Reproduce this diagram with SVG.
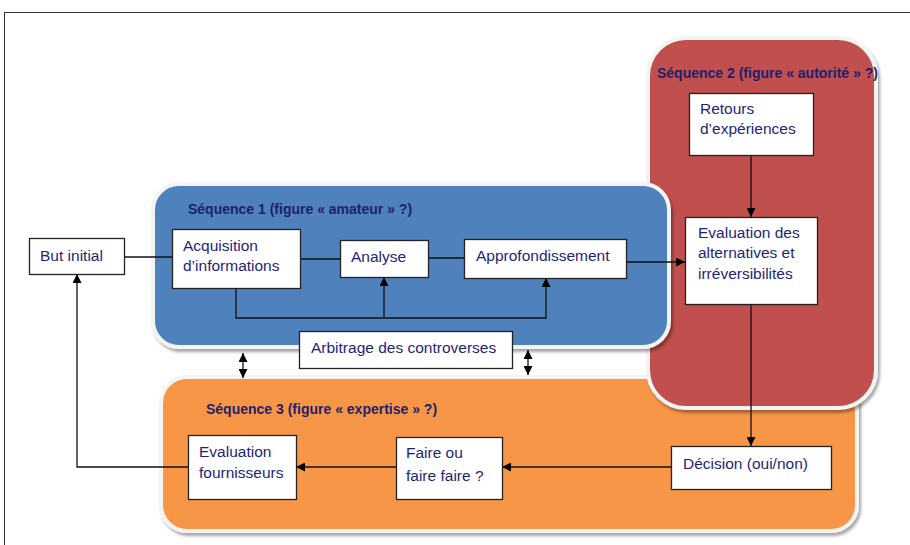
<svg xmlns="http://www.w3.org/2000/svg" width="910" height="545" viewBox="0 0 910 545">
<defs>
<style>
.t{font-family:"Liberation Sans",Arial,sans-serif;font-size:15.5px;fill:#1f1f7a}
.h{font-family:"Liberation Sans",Arial,sans-serif;font-size:14px;font-weight:bold;fill:#1f1f6e}
.box{fill:#fff;stroke:#222;stroke-width:1.3}
.panel{stroke:#f4f4f4;stroke-width:4;filter:url(#sh)}
.c{fill:none;stroke:#111;stroke-width:1.3}
</style>
<filter id="sh" x="-10%" y="-10%" width="120%" height="130%">
<feDropShadow dx="2" dy="3" stdDeviation="1.5" flood-color="#000" flood-opacity="0.35"/>
</filter>
<marker id="a" viewBox="0 0 10 10" refX="10" refY="5" markerWidth="9" markerHeight="9" markerUnits="userSpaceOnUse" orient="auto-start-reverse">
<path d="M0,0 L10,5 L0,10 z" fill="#000"/>
</marker>
</defs>
<rect width="910" height="545" fill="#fff"/>
<rect x="4.5" y="12.5" width="1000" height="1000" fill="none" stroke="#333" stroke-width="1"/>

<g id="seq3">
<rect class="panel" x="161" y="377" width="696" height="154" rx="26" fill="#F79646"/>
<text class="h" x="206" y="414">Séquence 3 (figure « expertise » ?)</text>
</g>
<g id="seq2">
<rect class="panel" x="648" y="38" width="228" height="370" rx="38" fill="#C0504D"/>
<text class="h" x="657" y="78">Séquence 2 (figure « autorité » ?)</text>
</g>
<g id="seq1">
<rect class="panel" x="153" y="184" width="516" height="163" rx="26" fill="#4F81BD"/>
<text class="h" x="188" y="214">Séquence 1 (figure « amateur » ?)</text>
</g>

<g id="connectors">
<line class="c" x1="124" y1="257" x2="172" y2="257"/>
<line class="c" x1="300" y1="259" x2="340" y2="259"/>
<line class="c" x1="428" y1="258" x2="464" y2="258"/>
<line class="c" x1="626" y1="262" x2="685" y2="262" marker-end="url(#a)"/>
<polyline class="c" points="236,288 236,318 546,318 546,278" marker-end="url(#a)"/>
<line class="c" x1="384" y1="318" x2="384" y2="277" marker-end="url(#a)"/>
<line class="c" x1="751" y1="155" x2="751" y2="217" marker-end="url(#a)"/>
<line class="c" x1="751" y1="304" x2="751" y2="446" marker-end="url(#a)"/>
<line class="c" x1="671" y1="467" x2="502" y2="467" marker-end="url(#a)"/>
<line class="c" x1="396" y1="467" x2="296" y2="467" marker-end="url(#a)"/>
<polyline class="c" points="188,467 77,467 77,274" marker-end="url(#a)"/>
<line class="c" x1="243" y1="353" x2="243" y2="378" marker-start="url(#a)" marker-end="url(#a)"/>
<line class="c" x1="528" y1="350" x2="528" y2="375" marker-start="url(#a)" marker-end="url(#a)"/>
</g>

<g id="but">
<rect class="box" x="29.5" y="238.5" width="95" height="36"/>
<text class="t" x="40" y="261">But initial</text>
</g>
<g id="acquisition">
<rect class="box" x="172.5" y="229.5" width="128" height="59"/>
<text class="t" x="183" y="251">Acquisition</text>
<text class="t" x="183" y="271">d’informations</text>
</g>
<g id="analyse">
<rect class="box" x="340.5" y="240.5" width="88" height="37"/>
<text class="t" x="351" y="262">Analyse</text>
</g>
<g id="approfondissement">
<rect class="box" x="464.5" y="239.5" width="162" height="39"/>
<text class="t" x="476" y="261">Approfondissement</text>
</g>
<g id="arbitrage">
<rect class="box" x="299.5" y="331.5" width="213" height="37"/>
<text class="t" x="311" y="353">Arbitrage des controverses</text>
</g>
<g id="retours">
<rect class="box" x="689.5" y="93.5" width="124" height="62"/>
<text class="t" x="700" y="114">Retours</text>
<text class="t" x="700" y="134">d’expériences</text>
</g>
<g id="evaluation">
<rect class="box" x="685.5" y="217.5" width="132" height="87"/>
<text class="t" x="698" y="238">Evaluation des</text>
<text class="t" x="698" y="258">alternatives et</text>
<text class="t" x="698" y="279">irréversibilités</text>
</g>
<g id="decision">
<rect class="box" x="671.5" y="446.5" width="160" height="43"/>
<text class="t" x="683" y="469">Décision (oui/non)</text>
</g>
<g id="faire">
<rect class="box" x="396.5" y="437.5" width="106" height="62"/>
<text class="t" x="406" y="458">Faire ou</text>
<text class="t" x="406" y="481">faire faire ?</text>
</g>
<g id="fournisseurs">
<rect class="box" x="188.5" y="435.5" width="108" height="64"/>
<text class="t" x="199" y="457">Evaluation</text>
<text class="t" x="199" y="478">fournisseurs</text>
</g>
</svg>
